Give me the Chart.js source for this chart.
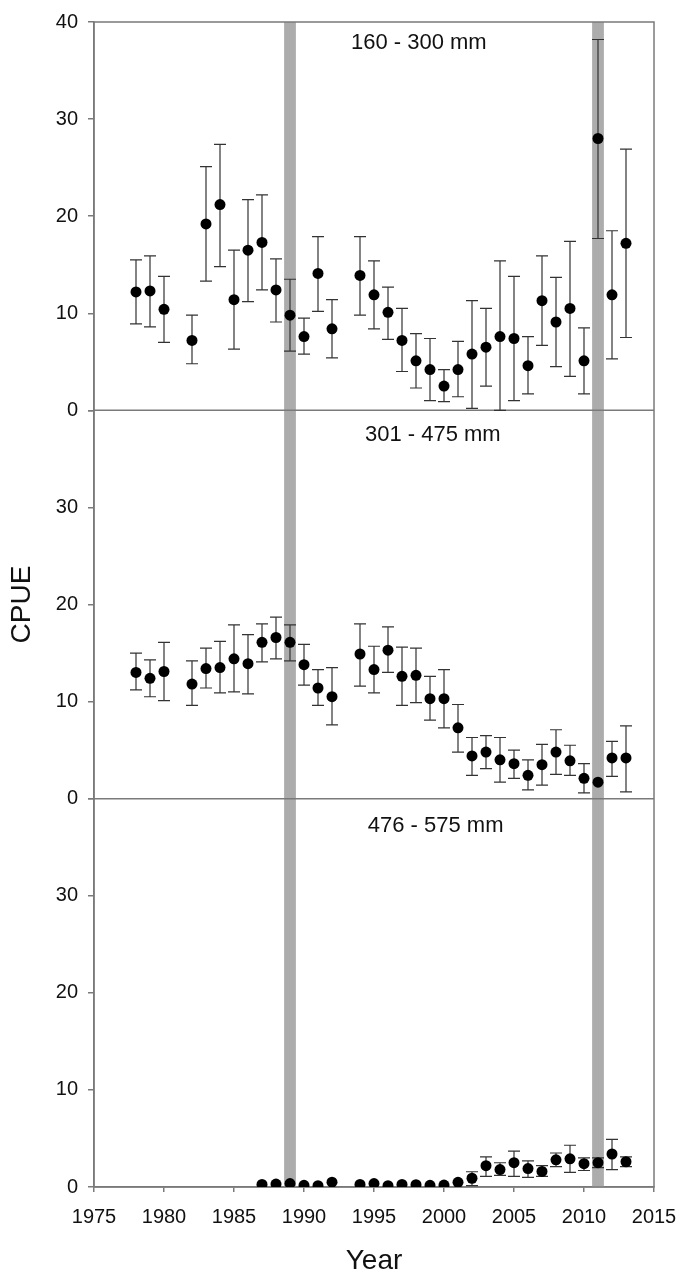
<!DOCTYPE html>
<html>
<head>
<meta charset="utf-8">
<script src="https://cdn.jsdelivr.net/npm/chart.js@4.4.1/dist/chart.umd.min.js"></script>
<style>
  html, body { margin: 0; padding: 0; background: #fff; }
  canvas { display: block; }
</style>
</head>
<body>
<canvas id="c" width="680" height="1274"></canvas>
<script>
// ---------------- DATA ----------------
const panelLabels = ['160 - 300 mm', '301 - 475 mm', '476 - 575 mm'];
const xTickLabels = [1975, 1980, 1985, 1990, 1995, 2000, 2005, 2010, 2015];
const shadedYears = [1989, 2011];

// Panel 1: 160 - 300 mm
const years1 = [1978,1979,1980,1982,1983,1984,1985,1986,1987,1988,1989,1990,1991,1992,1994,1995,1996,1997,1998,1999,2000,2001,2002,2003,2004,2005,2006,2007,2008,2009,2010,2011,2012,2013];
const mean1  = [12.2,12.3,10.4,7.2,19.2,21.2,11.4,16.5,17.3,12.4,9.8,7.6,14.1,8.4,13.9,11.9,10.1,7.2,5.1,4.2,2.5,4.2,5.8,6.5,7.6,7.4,4.6,11.3,9.1,10.5,5.1,28.0,11.9,17.2];
const upper1 = [15.5,15.9,13.8,9.8,25.1,27.4,16.5,21.7,22.2,15.6,13.5,9.5,17.9,11.4,17.9,15.4,12.7,10.5,7.9,7.4,4.2,7.1,11.3,10.5,15.4,13.8,7.6,15.9,13.7,17.4,8.5,38.2,18.5,26.9];
const lower1 = [8.9,8.6,7.0,4.8,13.3,14.8,6.3,11.2,12.4,9.1,6.1,5.8,10.2,5.4,9.8,8.4,7.3,4.0,2.3,1.0,0.9,1.4,0.2,2.5,0.0,1.0,1.7,6.7,4.5,3.5,1.7,17.7,5.3,7.5];

// Panel 2: 301 - 475 mm
const years2 = [1978,1979,1980,1982,1983,1984,1985,1986,1987,1988,1989,1990,1991,1992,1994,1995,1996,1997,1998,1999,2000,2001,2002,2003,2004,2005,2006,2007,2008,2009,2010,2011,2012,2013];
const mean2  = [13.0,12.4,13.1,11.8,13.4,13.5,14.4,13.9,16.1,16.6,16.1,13.8,11.4,10.5,14.9,13.3,15.3,12.6,12.7,10.3,10.3,7.3,4.4,4.8,4.0,3.6,2.4,3.5,4.8,3.9,2.1,1.7,4.2,4.2];
const upper2 = [15.0,14.3,16.1,14.2,15.5,16.2,17.9,16.9,18.0,18.7,17.9,15.9,13.3,13.5,18.0,15.7,17.7,15.6,15.5,12.6,13.3,9.7,6.3,6.5,6.3,5.0,4.0,5.6,7.1,5.5,3.6,1.7,5.9,7.5];
const lower2 = [11.2,10.5,10.1,9.6,11.4,10.9,11.0,10.8,14.1,14.4,14.2,11.7,9.6,7.6,11.6,10.9,13.0,9.6,9.9,8.1,7.3,4.8,2.4,3.1,1.7,2.1,0.9,1.4,2.5,2.4,0.6,1.7,2.3,0.7];

// Panel 3: 476 - 575 mm
const years3 = [1987,1988,1989,1990,1991,1992,1994,1995,1996,1997,1998,1999,2000,2001,2002,2003,2004,2005,2006,2007,2008,2009,2010,2011,2012,2013];
const mean3  = [0.27,0.3,0.35,0.17,0.14,0.5,0.27,0.35,0.14,0.27,0.24,0.17,0.2,0.48,0.9,2.2,1.8,2.5,1.9,1.6,2.8,2.9,2.4,2.5,3.4,2.6];
const upper3 = [0.27,0.3,0.35,0.17,0.14,0.5,0.27,0.35,0.14,0.27,0.24,0.17,0.2,0.48,1.57,3.1,2.5,3.7,2.7,2.2,3.5,4.3,3.0,3.0,4.9,3.1];
const lower3 = [0.27,0.3,0.35,0.17,0.14,0.5,0.27,0.35,0.14,0.27,0.24,0.17,0.2,0.48,0.14,1.1,1.2,1.1,1.0,1.1,2.1,1.5,1.7,2.0,1.8,2.1];

// ---------------- CHART ----------------
const FONT = '"Liberation Sans", Arial, Helvetica, sans-serif';
const AXIS_COLOR = '#7a7a7a';

const panels = [
  { axis: 'y1', label: panelLabels[0], years: years1, mean: mean1, upper: upper1, lower: lower1 },
  { axis: 'y2', label: panelLabels[1], years: years2, mean: mean2, upper: upper2, lower: lower2 },
  { axis: 'y3', label: panelLabels[2], years: years3, mean: mean3, upper: upper3, lower: lower3 }
];

// label placement (in data units of each panel)
const labelPlacement = [
  { x: 1998.2, y: 37.8 },
  { x: 1999.2, y: 37.5 },
  { x: 1999.4, y: 37.2 }
];

const panelPlugin = {
  id: 'panelDecor',
  beforeDatasetsDraw(chart) {
    const { ctx, chartArea: a, scales } = chart;
    const xs = scales.x;
    ctx.save();
    // shaded vertical bands
    ctx.fillStyle = '#acacac';
    shadedYears.forEach(yr => {
      const l = xs.getPixelForValue(yr - 0.42);
      const r = xs.getPixelForValue(yr + 0.42);
      ctx.fillRect(l, a.top, r - l, a.bottom - a.top);
    });
    // frame and panel dividers
    ctx.strokeStyle = AXIS_COLOR;
    ctx.lineWidth = 1.5;
    ctx.strokeRect(a.left, a.top, a.right - a.left, a.bottom - a.top);
    ['y1', 'y2'].forEach(id => {
      const yy = scales[id].getPixelForValue(0);
      ctx.beginPath();
      ctx.moveTo(a.left, yy);
      ctx.lineTo(a.right, yy);
      ctx.stroke();
    });
    // error bars
    ctx.strokeStyle = '#333';
    ctx.lineWidth = 1.2;
    panels.forEach(p => {
      const ys = scales[p.axis];
      p.years.forEach((yr, i) => {
        if (p.upper[i] === p.lower[i]) return;
        const px = xs.getPixelForValue(yr);
        const t = ys.getPixelForValue(p.upper[i]);
        const b = ys.getPixelForValue(p.lower[i]);
        ctx.beginPath();
        ctx.moveTo(px, t); ctx.lineTo(px, b);
        ctx.moveTo(px - 6, t); ctx.lineTo(px + 6, t);
        ctx.moveTo(px - 6, b); ctx.lineTo(px + 6, b);
        ctx.stroke();
      });
    });
    // panel labels
    ctx.fillStyle = '#111';
    ctx.font = '22px ' + FONT;
    ctx.textAlign = 'center';
    ctx.textBaseline = 'middle';
    panels.forEach((p, k) => {
      const pos = labelPlacement[k];
      ctx.fillText(p.label, xs.getPixelForValue(pos.x), scales[p.axis].getPixelForValue(pos.y));
    });
    ctx.restore();
  }
};

function yAxis(showTop, title) {
  return {
    type: 'linear',
    position: 'left',
    stack: 'panels',
    stackWeight: 1,
    min: 0,
    max: 40,
    ticks: {
      stepSize: 10,
      font: { family: FONT, size: 20 },
      color: '#111',
      padding: 10,
      callback: v => (v === 40 && !showTop) ? '' : String(v)
    },
    grid: { drawOnChartArea: false, tickLength: 6, color: AXIS_COLOR, lineWidth: 1.5 },
    border: { color: AXIS_COLOR, width: 1.5 },
    title: title
      ? { display: true, text: title, font: { family: FONT, size: 28 }, color: '#111', padding: { top: 5, bottom: 0 } }
      : { display: false },
    afterFit(s) { s.width = 94; }
  };
}

new Chart(document.getElementById('c').getContext('2d'), {
  type: 'scatter',
  data: {
    datasets: panels.map(p => ({
      label: p.label,
      yAxisID: p.axis,
      data: p.years.map((yr, i) => ({ x: yr, y: p.mean[i] })),
      pointRadius: 5.5,
      pointHoverRadius: 5.5,
      backgroundColor: '#000',
      borderColor: '#000',
      borderWidth: 0
    }))
  },
  options: {
    responsive: false,
    animation: false,
    events: [],
    layout: { padding: { left: 0, right: 26, top: 16, bottom: 0 } },
    plugins: { legend: { display: false }, tooltip: { enabled: false } },
    scales: {
      // stacked axes are laid out bottom-up in definition order
      y3: yAxis(false, null),
      y2: yAxis(false, 'CPUE'),
      y1: yAxis(true, null),
      x: {
        type: 'linear',
        position: 'bottom',
        min: xTickLabels[0],
        max: xTickLabels[xTickLabels.length - 1],
        afterBuildTicks(s) { s.ticks = xTickLabels.map(v => ({ value: v })); },
        ticks: {
          font: { family: FONT, size: 20 },
          color: '#111',
          padding: 13,
          callback: v => String(v)
        },
        grid: { drawOnChartArea: false, tickLength: 5, color: AXIS_COLOR, lineWidth: 1.5 },
        border: { color: AXIS_COLOR, width: 1.5 },
        title: { display: true, text: 'Year', font: { family: FONT, size: 28 }, color: '#111', padding: { top: 0, bottom: -4 } },
        afterFit(s) { s.height = 87; s.paddingLeft = 0; s.paddingRight = 0; }
      }
    }
  },
  plugins: [panelPlugin]
});
</script>
</body>
</html>
